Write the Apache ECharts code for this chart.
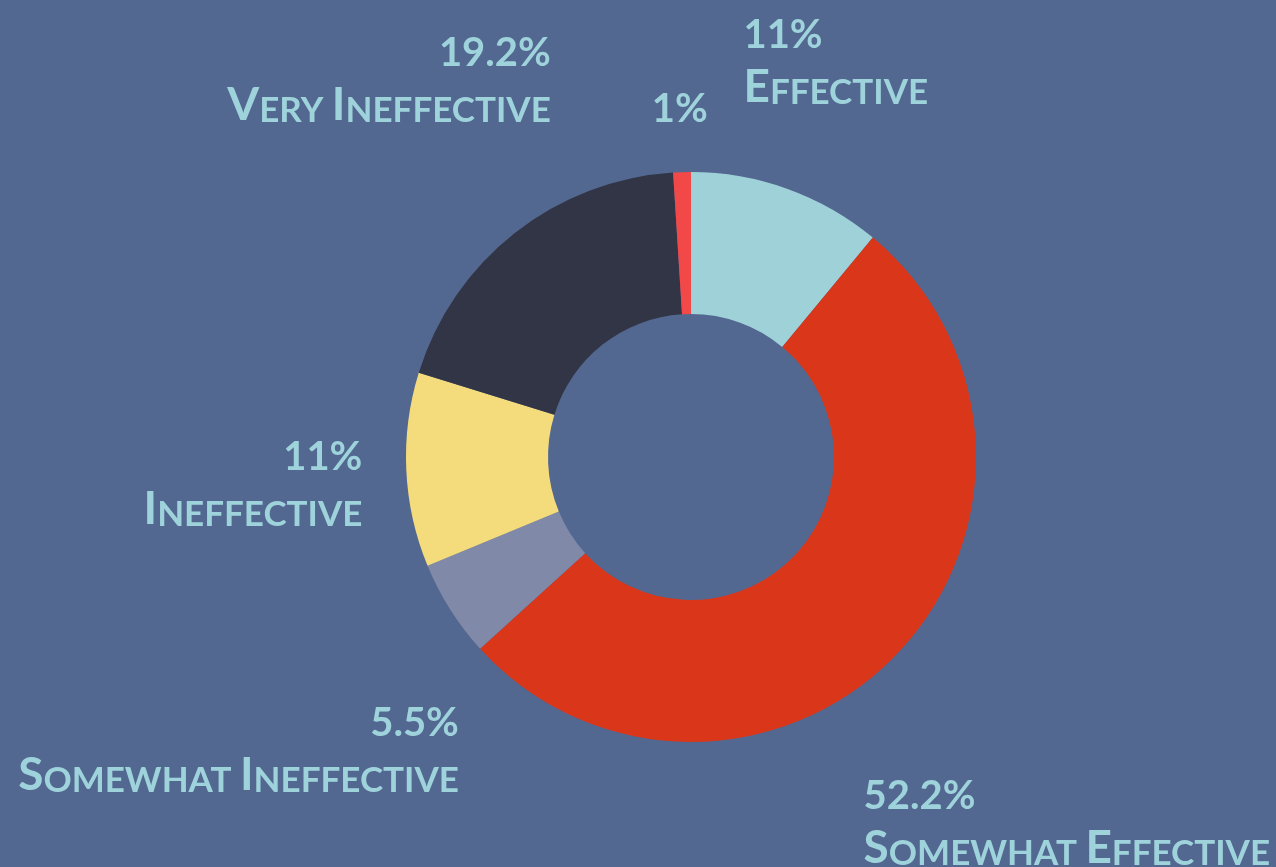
<!DOCTYPE html>
<html>
<head>
<meta charset="utf-8">
<script src="https://cdn.jsdelivr.net/npm/echarts@6/dist/echarts.min.js"></script>
<style>
html, body { margin: 0; padding: 0; background: #536890; }
#chart { width: 1276px; height: 867px; }
</style>
</head>
<body>
<div id="chart"></div>
<script>
// slices clockwise from 12 o'clock
const categories = ['Effective', 'Somewhat Effective', 'Somewhat Ineffective', 'Ineffective', 'Very Ineffective', ''];
const percentValues = [11, 52.2, 5.5, 11, 19.2, 1];
const sliceColors = ['#9fd1d9', '#d9361a', '#8089a8', '#f4dc7c', '#323545', '#f24848'];

const centerX = 691, centerY = 457;
const innerR = 143, outerR = 285;
// space between ring and label box, per slice
const labelGaps = [66, 55, 39, 42, 66, 50];
const textColor = '#9fd3dc';
const fontFamily = 'Lato, "Open Sans", sans-serif';

// mid angle of each slice, clockwise from top (radians)
const total = percentValues.reduce((a, b) => a + b, 0);
let acc = 0;
const midAngles = percentValues.map(function (v) {
	const m = (acc + v / 2) / total * 2 * Math.PI;
	acc += v;
	return m;
});

// fake small caps with rich text
function smallCaps(name) {
	return name.split(' ').map(function (w) {
		return '{cap|' + w[0] + '}{sc|' + w.slice(1).toUpperCase() + '}';
	}).join('{sc| }');
}

const chart = echarts.init(document.getElementById('chart'));
chart.setOption({
	backgroundColor: '#536890',
	animation: false,
	series: [{
		type: 'pie',
		center: [centerX, centerY],
		radius: [innerR, outerR],
		startAngle: 90,
		clockwise: true,
		avoidLabelOverlap: false,
		emphasis: { disabled: true },
		itemStyle: { borderWidth: 0 },
		labelLine: { show: false },
		label: {
			position: 'outside',
			color: textColor,
			formatter: function (p) {
				let s = '{pct|' + p.value + '%}';
				if (p.name) s += '\n' + smallCaps(p.name);
				return s;
			},
			rich: {
				pct: { fontFamily: fontFamily, fontWeight: 'bold', fontSize: 40, lineHeight: 55, color: textColor, verticalAlign: 'bottom' },
				cap: { fontFamily: fontFamily, fontWeight: 'bold', fontSize: 46, lineHeight: 55, color: textColor, verticalAlign: 'bottom' },
				sc: { fontFamily: fontFamily, fontWeight: 'bold', fontSize: 35, lineHeight: 55, color: textColor, verticalAlign: 'bottom' }
			}
		},
		labelLayout: function (params) {
			const i = params.dataIndex;
			const a = midAngles[i];
			const w = params.labelRect.width, h = params.labelRect.height;
			const ext = w / 2 * Math.abs(Math.sin(a)) + h / 2 * Math.abs(Math.cos(a));
			const d = outerR + labelGaps[i] + ext;
			const bx = centerX + d * Math.sin(a);
			const by = centerY - d * Math.cos(a);
			const right = Math.sin(a) >= 0;
			return {
				x: right ? bx - w / 2 : bx + w / 2,
				y: by,
				align: right ? 'left' : 'right',
				verticalAlign: 'middle'
			};
		},
		data: categories.map(function (c, i) {
			return { name: c, value: percentValues[i], itemStyle: { color: sliceColors[i] } };
		})
	}]
});
</script>
</body>
</html>
